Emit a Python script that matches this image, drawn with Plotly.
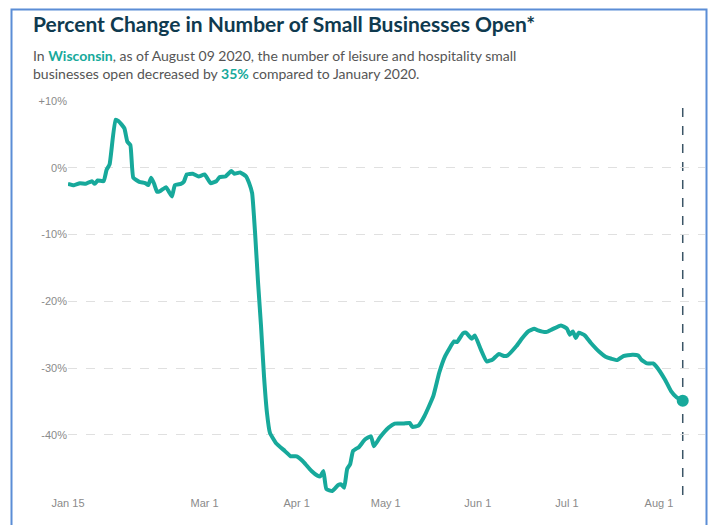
import plotly.graph_objects as go

# ---- data ----
dates = [
    "2020-01-15", "2020-01-17", "2020-01-19", "2020-01-21", "2020-01-23", "2020-01-24",
    "2020-01-25", "2020-01-27", "2020-01-28", "2020-01-29", "2020-01-31", "2020-02-01",
    "2020-02-02", "2020-02-03", "2020-02-04", "2020-02-05", "2020-02-06", "2020-02-08",
    "2020-02-10", "2020-02-11", "2020-02-12", "2020-02-13", "2020-02-14", "2020-02-15",
    "2020-02-17", "2020-02-18", "2020-02-19", "2020-02-20", "2020-02-22", "2020-02-23",
    "2020-02-24", "2020-02-26", "2020-02-28", "2020-03-01", "2020-03-03", "2020-03-05",
    "2020-03-06", "2020-03-08", "2020-03-10", "2020-03-11", "2020-03-13", "2020-03-15",
    "2020-03-16", "2020-03-17", "2020-03-18", "2020-03-19", "2020-03-20", "2020-03-21",
    "2020-03-22", "2020-03-23", "2020-03-25", "2020-03-28", "2020-03-30", "2020-04-01",
    "2020-04-03", "2020-04-04", "2020-04-06", "2020-04-08", "2020-04-09", "2020-04-10",
    "2020-04-11", "2020-04-13", "2020-04-15", "2020-04-16", "2020-04-17", "2020-04-18",
    "2020-04-19", "2020-04-20", "2020-04-22", "2020-04-24", "2020-04-26", "2020-04-27",
    "2020-04-29", "2020-05-02", "2020-05-04", "2020-05-07", "2020-05-09", "2020-05-10",
    "2020-05-12", "2020-05-14", "2020-05-17", "2020-05-19", "2020-05-21", "2020-05-24",
    "2020-05-25", "2020-05-27", "2020-05-28", "2020-05-30", "2020-05-31", "2020-06-02",
    "2020-06-04", "2020-06-06", "2020-06-08", "2020-06-10", "2020-06-11", "2020-06-14",
    "2020-06-16", "2020-06-18", "2020-06-20", "2020-06-21", "2020-06-24", "2020-06-26",
    "2020-06-29", "2020-07-01", "2020-07-02", "2020-07-03", "2020-07-04", "2020-07-05",
    "2020-07-07", "2020-07-09", "2020-07-12", "2020-07-14", "2020-07-16", "2020-07-18",
    "2020-07-20", "2020-07-23", "2020-07-25", "2020-07-26", "2020-07-28", "2020-07-30",
    "2020-07-31", "2020-08-03", "2020-08-05", "2020-08-07", "2020-08-09",
]
pct_change = [
    -2.4, -2.6, -2.3, -2.4, -2.0, -2.4,
    -1.9, -2.0, -0.3, 0.5, 7.2, 7.0,
    6.5, 5.9, 3.9, 3.4, -1.5, -2.1,
    -2.3, -2.6, -1.5, -2.4, -3.6, -3.5,
    -2.9, -3.6, -4.3, -2.6, -2.4, -2.1,
    -1.0, -0.9, -1.3, -1.0, -2.3, -2.0,
    -1.4, -1.3, -0.5, -0.9, -0.7, -1.3,
    -2.3, -3.8, -9.8, -17.2, -23.7, -31.2,
    -36.7, -39.7, -41.2, -42.4, -43.2, -43.2,
    -43.9, -44.4, -45.4, -46.1, -46.2, -45.4,
    -48.1, -48.4, -47.5, -47.4, -47.9, -45.1,
    -44.4, -42.4, -41.8, -40.7, -40.2, -41.7,
    -40.4, -38.9, -38.3, -38.3, -38.2, -38.8,
    -38.6, -37.2, -34.2, -30.7, -28.2, -26.0,
    -26.1, -24.8, -24.7, -25.6, -25.1, -27.2,
    -29.0, -28.7, -27.9, -28.2, -28.1, -26.7,
    -25.5, -24.5, -24.1, -24.3, -24.6, -24.2,
    -23.6, -24.1, -25.0, -24.5, -25.5, -24.7,
    -25.1, -26.2, -27.6, -28.3, -28.6, -28.8,
    -28.2, -28.0, -28.1, -28.7, -29.3, -29.3,
    -29.7, -31.7, -33.4, -34.4, -34.9,
]

y_tickvals = [10, 0, -10, -20, -30, -40]
y_ticktext = ["+10%", "0%", "-10%", "-20%", "-30%", "-40%"]
x_tickvals = ["2020-01-15", "2020-03-01", "2020-04-01", "2020-05-01",
              "2020-06-01", "2020-07-01", "2020-08-01"]
x_ticktext = ["Jan 15", "Mar 1", "Apr 1", "May 1", "Jun 1", "Jul 1", "Aug 1"]

state = "Wisconsin"
as_of = "August 09 2020"
latest_date = dates[-1]
latest_value = pct_change[-1]

TEAL = "#17a99b"
NAVY = "#0f3a4f"

W, H = 709, 525
L, R, T, B = 68, 4, 101, 30
plot_h = H - T - B
plot_w = W - L - R


def py(px):  # pixel row -> paper y
    return (H - B - px) / plot_h


def pxx(px):  # pixel column -> paper x
    return (px - L) / plot_w


fig = go.Figure()
fig.add_trace(go.Scatter(
    x=dates, y=pct_change, mode="lines",
    line=dict(color=TEAL, width=4, shape="spline", smoothing=0.4),
    hoverinfo="skip", showlegend=False,
))
fig.add_trace(go.Scatter(
    x=[latest_date], y=[latest_value], mode="markers",
    marker=dict(color=TEAL, size=12),
    hoverinfo="skip", showlegend=False,
))

fig.add_shape(type="line", xref="x", yref="paper",
              x0=latest_date, x1=latest_date, y0=0, y1=1,
              line=dict(color="#3b5566", width=1.5, dash="dash"), layer="below")

# outer frame (left, top, right edges of a blue border)
fig.add_shape(type="rect", xref="paper", yref="paper",
              x0=pxx(11.5), x1=pxx(706.5), y0=py(540), y1=py(9.5),
              line=dict(color="#5b8dd6", width=2), fillcolor="rgba(0,0,0,0)")

fig.add_annotation(
    xref="paper", yref="paper", x=pxx(31), y=py(9), xanchor="left", yanchor="top",
    text="<b>Percent Change in Number of Small Businesses Open*</b>",
    showarrow=False, font=dict(family="Lato", size=21, color=NAVY),
)
fig.add_annotation(
    xref="paper", yref="paper", x=pxx(31), y=py(45), xanchor="left", yanchor="top",
    align="left",
    text=(f"In <b><span style='color:{TEAL}'>{state}</span></b>, as of {as_of}, the number of leisure and hospitality small"
          f"<br>businesses open decreased by <b><span style='color:{TEAL}'>{abs(round(latest_value))}%</span></b> compared to January 2020."),
    showarrow=False, font=dict(family="Lato", size=14, color="#555555"),
)

fig.update_layout(
    width=W, height=H,
    margin=dict(l=L, r=R, t=T, b=B, pad=0),
    paper_bgcolor="white", plot_bgcolor="white",
    font=dict(family="Liberation Sans, Arial", size=11, color="#8a8a8a"),
    xaxis=dict(
        type="date", range=["2020-01-15", "2020-08-16 12:00"],
        tickvals=x_tickvals, ticktext=x_ticktext,
        showgrid=False, zeroline=False, showline=False, ticks="",
        tickfont=dict(size=11, color="#8a8a8a"), fixedrange=True,
    ),
    yaxis=dict(
        range=[-49, 10], tickvals=y_tickvals, ticktext=y_ticktext,
        showgrid=True, gridcolor="#e0e0e0", griddash="dash", gridwidth=1,
        zeroline=False, showline=False, ticks="",
        tickfont=dict(size=11, color="#8a8a8a"), fixedrange=True,
    ),
)

fig.write_html("out.html")
